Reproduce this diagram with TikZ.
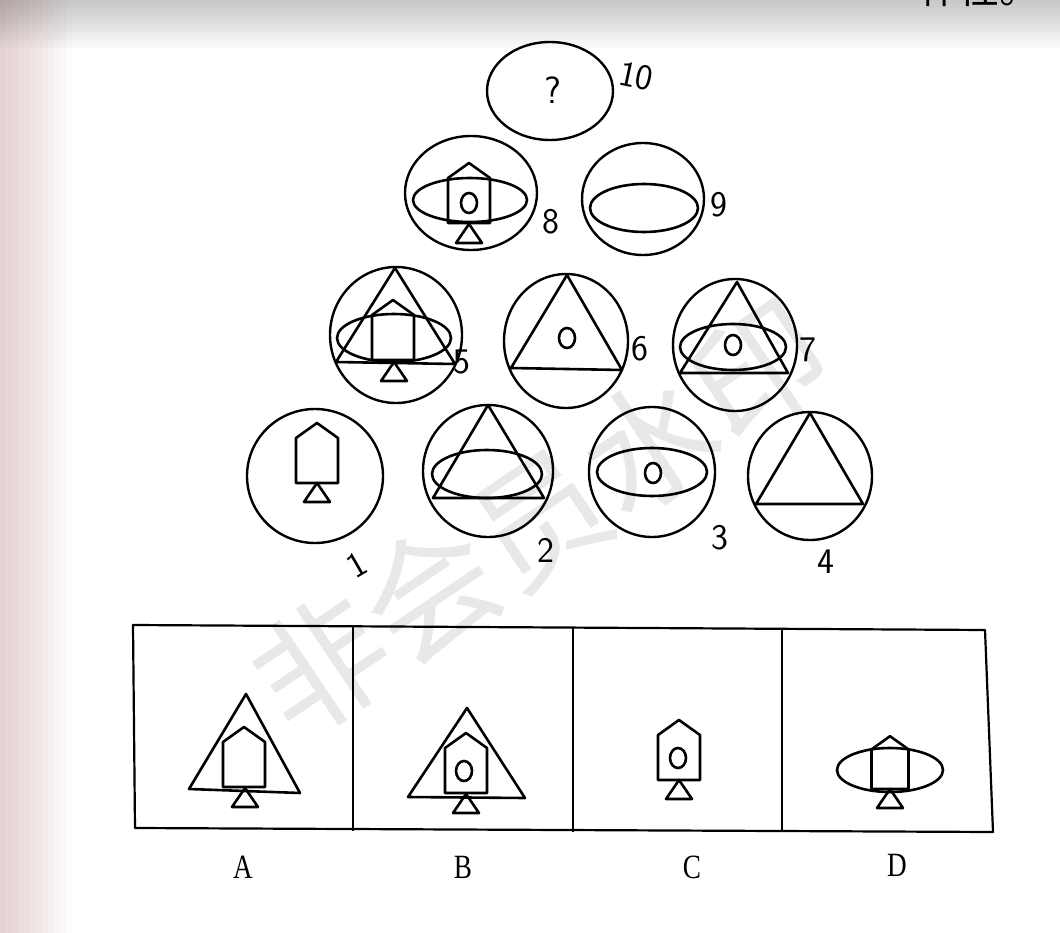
\documentclass[tikz,border=0pt]{standalone}
\usepackage{fontspec}
\newfontfamily\cjk{Noto Sans CJK SC}
\newfontfamily\optfont{Liberation Serif}
\usepackage{xcolor}
\usetikzlibrary{positioning}

\begin{document}
\begin{tikzpicture}[
    x=1pt, y=-1pt,
    fig/.style={line width=2.6pt, line join=round},
    ring/.style={line width=2.4pt},
    frame/.style={line width=2.2pt, line join=round},
    num/.style={font=\sffamily\fontsize{36}{36}\selectfont, inner sep=0pt},
    opt/.style={font=\optfont\fontsize{34}{34}\selectfont, inner sep=0pt, xscale=.8},
    wmark/.style={font=\cjk\fontsize{132}{132}\selectfont, text=black!9, rotate=34, inner sep=0pt},
    pics/house/.style={code={\draw[fig] (-21,0) -- (-21,-45) -- (0,-60) -- (21,-45) -- (21,0) -- cycle;}},
    pics/stand/.style={code={\draw[fig] (0,0) -- (-13,19) -- (13,19) -- cycle;}},
    pics/pupil/.style={code={\draw[fig] (0,0) ellipse [x radius=8, y radius=10];}},
]
    \useasboundingbox (0,0) rectangle (1060,933);
    % paper shading of the photo
    \foreach \i in {1,...,12} {
        \fill[black, opacity=.02] (0,0) rectangle (1060,4*\i);
        \fill[red!40!black, opacity=.015] (0,0) rectangle (6*\i,933);
    }
    \node[wmark] (wm) at (540,518) {非会员水印};
    \node[font=\cjk\fontsize{40}{40}\selectfont, anchor=base east, inner sep=0pt] (head) at (1040,4) {律性。};

    % top: 10, 8, 9
    \draw[ring] (550,91) ellipse [x radius=63, y radius=49];
    \node[font=\sffamily\fontsize{38}{38}\selectfont, inner sep=0pt] (q) at (553,90) {?};
    \draw[ring] (471,193) ellipse [x radius=66, y radius=57];
    \draw[fig] (470,200) ellipse [x radius=57, y radius=22];
    \pic at (469,223) {house};
    \pic at (469,203) {pupil};
    \pic at (469,224) {stand};
    \draw[ring] (643,199) ellipse [x radius=61, y radius=56];
    \draw[fig] (644,208) ellipse [x radius=54, y radius=24];

    % row 5, 6, 7
    \draw[ring] (396,335) ellipse [x radius=66, y radius=68];
    \draw[fig] (395,268) -- (336,362) -- (455,364) -- cycle;
    \draw[fig] (394,338) ellipse [x radius=57, y radius=24];
    \pic at (393,360) {house};
    \pic at (394,362) {stand};
    \draw[ring] (566,341) ellipse [x radius=62, y radius=67];
    \draw[fig] (567,275) -- (511,368) -- (622,370) -- cycle;
    \pic at (567,338) {pupil};
    \draw[ring] (735,345) ellipse [x radius=62, y radius=66];
    \draw[fig] (737,282) -- (680,373) -- (788,373) -- cycle;
    \draw[fig] (733,347) ellipse [x radius=53, y radius=23];
    \pic at (733,345) {pupil};

    % row 1, 2, 3, 4
    \draw[ring] (315,476) ellipse [x radius=68, y radius=67];
    \pic at (317,483) {house};
    \pic at (317,483) {stand};
    \draw[ring] (488,471) ellipse [x radius=65, y radius=66];
    \draw[fig] (488,405) -- (433,498) -- (544,498) -- cycle;
    \draw[fig] (487,474) ellipse [x radius=55, y radius=24];
    \draw[ring] (652,472) ellipse [x radius=63, y radius=65];
    \draw[fig] (652,472) ellipse [x radius=55, y radius=24];
    \pic at (653,473) {pupil};
    \draw[ring] (810,476) ellipse [x radius=62, y radius=64];
    \draw[fig] (810,413) -- (756,504) -- (863,504) -- cycle;

    % handwritten numbers
    \node[num, rotate=-12] (n10) at (636,76) {10};
    \node[num] (n8) at (551,222) {8};
    \node[num] (n9) at (719,205) {9};
    \node[num] (n5) at (462,362) {5};
    \node[num] (n6) at (640,349) {6};
    \node[num] (n7) at (808,350) {7};
    \node[num, rotate=30] (n1) at (357,565) {1};
    \node[num] (n2) at (546,550) {2};
    \node[num] (n3) at (720,538) {3};
    \node[num] (n4) at (826,562) {4};

    % answer boxes
    \coordinate (tl) at (133,625);
    \coordinate (tr) at (985,630);
    \coordinate (br) at (993,832);
    \coordinate (bl) at (135,828);
    \draw[frame] (tl) -- (tr) -- (br) -- (bl) -- cycle;
    \draw[frame] (353,626) -- (353,831);
    \draw[frame] (573,627) -- (573,832);
    \draw[frame] (782,628) -- (782,831);

    % A
    \draw[fig] (246,694) -- (189,789) -- (300,793) -- cycle;
    \pic at (244,787) {house};
    \pic at (245,788) {stand};
    % B
    \draw[fig] (467,708) -- (408,797) -- (525,798) -- cycle;
    \pic at (466,793) {house};
    \pic at (464,771) {pupil};
    \pic at (466,794) {stand};
    % C
    \pic at (679,780) {house};
    \pic at (678,758) {pupil};
    \pic at (679,780) {stand};
    % D
    \draw[fig] (890,770) ellipse [x radius=53, y radius=22];
    \pic[scale=.88] at (890,789) {house};
    \pic at (890,789) {stand};

    \node[opt] (la) at (243,867) {A};
    \node[opt] (lb) at (463,867) {B};
    \node[opt] (lc) at (692,867) {C};
    \node[opt] (ld) at (897,865) {D};
\end{tikzpicture}
\end{document}
